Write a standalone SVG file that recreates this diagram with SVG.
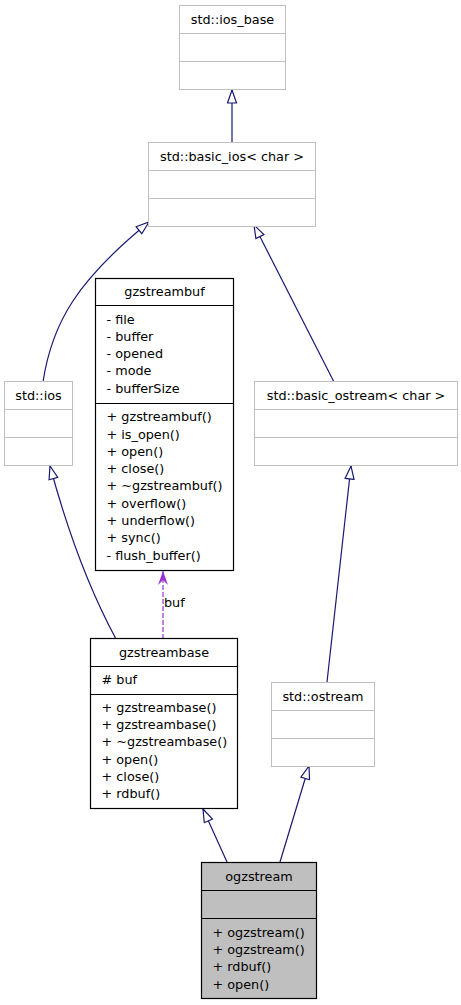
<svg xmlns="http://www.w3.org/2000/svg" width="461" height="1005" viewBox="0 0 461 1005">
<style>
text{font-family:"DejaVu Sans","Noto Sans",sans-serif;font-size:12.8px;fill:#000}
.t{text-anchor:middle}
.g rect,.g line{stroke:#bfbfbf;stroke-width:1;fill:#fff}
.k rect,.k line{stroke:#000;stroke-width:1.2;fill:#fff}
.k.sel rect{fill:#bfbfbf}
.e{fill:none;stroke:#191970;stroke-width:1.2}
.u{fill:none;stroke:#9a32cd;stroke-width:1.2;stroke-dasharray:5,2}
</style>
<defs>
<marker id="inh" viewBox="0 0 15 11" refX="14" refY="5.5" markerWidth="15" markerHeight="11" markerUnits="userSpaceOnUse" orient="auto">
<path d="M1,1 L14,5.5 L1,10 z" fill="#fff" stroke="#191970" stroke-width="1.2"/>
</marker>
<marker id="vee" viewBox="0 0 14 10" refX="14" refY="5" markerWidth="14" markerHeight="10" markerUnits="userSpaceOnUse" orient="auto">
<path d="M0,0 L14,5 L0,10 L5,5 z" fill="#9a32cd"/>
</marker>
</defs>

<g id="connectors">
<path class="e" d="M232,142 L232,90" marker-end="url(#inh)"/>
<path class="e" d="M43,382 C52,322 78,280 149,222" marker-end="url(#inh)"/>
<path class="e" d="M334,382 L254,225" marker-end="url(#inh)"/>
<path class="e" d="M116,639 C95,600 70,540 50,466" marker-end="url(#inh)"/>
<path class="e" d="M327,682 L351,466" marker-end="url(#inh)"/>
<path class="e" d="M227,862 L203,809" marker-end="url(#inh)"/>
<path class="e" d="M280,862 L309,766" marker-end="url(#inh)"/>
<path class="u" d="M163,639 L163,571" marker-end="url(#vee)"/>
<text x="164" y="607">buf</text>
</g>

<g id="std_ios_base" class="g">
<rect x="179.5" y="5.5" width="106" height="84"/>
<line x1="179.5" y1="33.5" x2="285.5" y2="33.5"/>
<line x1="179.5" y1="61.5" x2="285.5" y2="61.5"/>
<text class="t" x="232.5" y="23.5">std::ios_base</text>
</g>

<g id="std_basic_ios" class="g">
<rect x="148.5" y="142.5" width="167" height="84"/>
<line x1="148.5" y1="170.5" x2="315.5" y2="170.5"/>
<line x1="148.5" y1="198.5" x2="315.5" y2="198.5"/>
<text class="t" x="232" y="160.5">std::basic_ios&lt; char &gt;</text>
</g>

<g id="std_ios" class="g">
<rect x="4.5" y="381.5" width="68" height="84"/>
<line x1="4.5" y1="409.5" x2="72.5" y2="409.5"/>
<line x1="4.5" y1="437.5" x2="72.5" y2="437.5"/>
<text class="t" x="38.5" y="399.5">std::ios</text>
</g>

<g id="std_basic_ostream" class="g">
<rect x="254.5" y="381.5" width="203" height="84"/>
<line x1="254.5" y1="409.5" x2="457.5" y2="409.5"/>
<line x1="254.5" y1="437.5" x2="457.5" y2="437.5"/>
<text class="t" x="356" y="399.5">std::basic_ostream&lt; char &gt;</text>
</g>

<g id="gzstreambuf" class="k">
<rect x="95.5" y="278.5" width="138" height="292"/>
<line x1="95.5" y1="305.5" x2="233.5" y2="305.5"/>
<line x1="95.5" y1="403.5" x2="233.5" y2="403.5"/>
<text class="t" x="164.5" y="296">gzstreambuf</text>
<text x="106.5" y="323.5">- file</text>
<text x="106.5" y="340.8">- buffer</text>
<text x="106.5" y="358.1">- opened</text>
<text x="106.5" y="375.4">- mode</text>
<text x="106.5" y="392.7">- bufferSize</text>
<text x="106.5" y="421.2">+ gzstreambuf()</text>
<text x="106.5" y="438.5">+ is_open()</text>
<text x="106.5" y="455.8">+ open()</text>
<text x="106.5" y="473.1">+ close()</text>
<text x="106.5" y="490.4">+ ~gzstreambuf()</text>
<text x="106.5" y="507.7">+ overflow()</text>
<text x="106.5" y="525">+ underflow()</text>
<text x="106.5" y="542.3">+ sync()</text>
<text x="106.5" y="559.6">- flush_buffer()</text>
</g>

<g id="gzstreambase" class="k">
<rect x="90.5" y="638.5" width="147" height="170"/>
<line x1="90.5" y1="666.5" x2="237.5" y2="666.5"/>
<line x1="90.5" y1="694.5" x2="237.5" y2="694.5"/>
<text class="t" x="164" y="656.5">gzstreambase</text>
<text x="101.5" y="683.8"># buf</text>
<text x="101.5" y="711.8">+ gzstreambase()</text>
<text x="101.5" y="729.1">+ gzstreambase()</text>
<text x="101.5" y="746.4">+ ~gzstreambase()</text>
<text x="101.5" y="763.7">+ open()</text>
<text x="101.5" y="781">+ close()</text>
<text x="101.5" y="798.3">+ rdbuf()</text>
</g>

<g id="std_ostream" class="g">
<rect x="271.5" y="682.5" width="103" height="84"/>
<line x1="271.5" y1="710.5" x2="374.5" y2="710.5"/>
<line x1="271.5" y1="738.5" x2="374.5" y2="738.5"/>
<text class="t" x="323" y="700.5">std::ostream</text>
</g>

<g id="ogzstream" class="k sel">
<rect x="201.5" y="862.5" width="115" height="136"/>
<line x1="201.5" y1="890.5" x2="316.5" y2="890.5"/>
<line x1="201.5" y1="918.5" x2="316.5" y2="918.5"/>
<text class="t" x="259" y="880.5">ogzstream</text>
<text x="212.5" y="936.8">+ ogzstream()</text>
<text x="212.5" y="954.1">+ ogzstream()</text>
<text x="212.5" y="971.4">+ rdbuf()</text>
<text x="212.5" y="988.7">+ open()</text>
</g>
</svg>
